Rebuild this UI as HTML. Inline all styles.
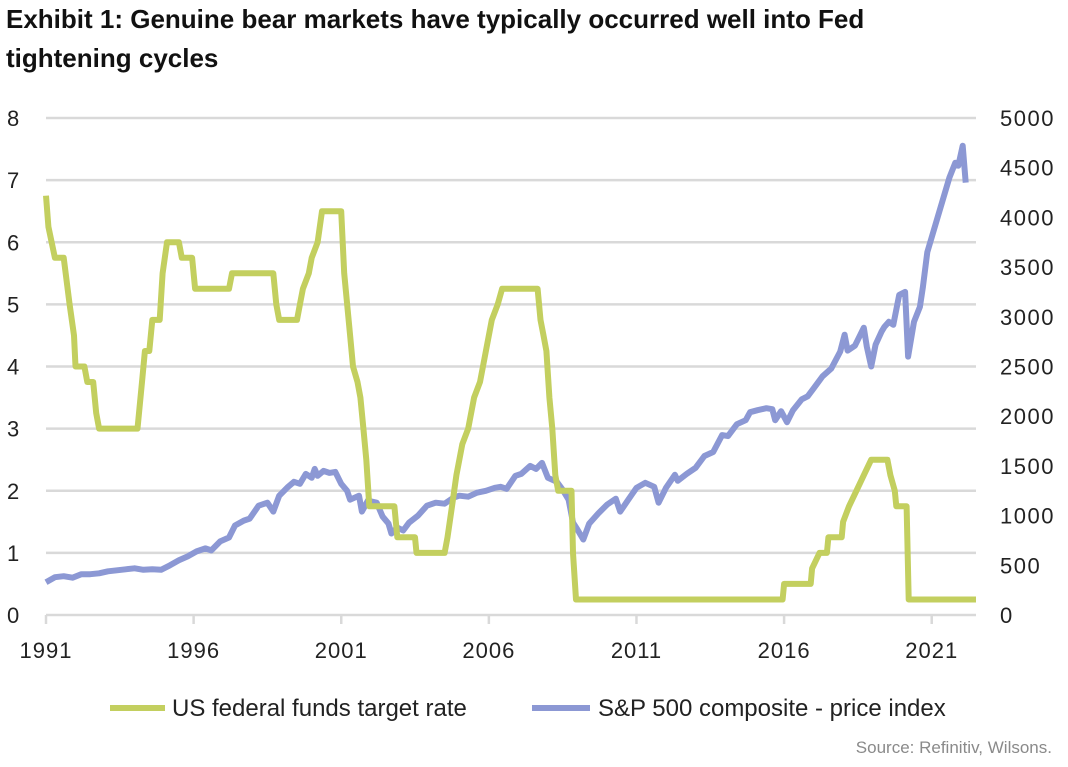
<!DOCTYPE html>
<html><head><meta charset="utf-8"><style>
body{margin:0;background:#fff;}
svg text{font-family:"Liberation Sans",sans-serif;}
</style></head><body>
<svg id="c" width="1068" height="762" xmlns="http://www.w3.org/2000/svg">
<text x="6" y="28" font-size="26" font-weight="bold" fill="#111">Exhibit 1: Genuine bear markets have typically occurred well into Fed</text>
<text x="6" y="67" font-size="26" font-weight="bold" fill="#111">tightening cycles</text>
<g id="grid"></g><g id="series"></g><g id="axes"></g>
<line x1="110" y1="708" x2="165" y2="708" stroke="#c3cf5f" stroke-width="6"/>
<text x="172" y="716" font-size="24" fill="#222">US federal funds target rate</text>
<line x1="532" y1="708" x2="590" y2="708" stroke="#8c98d4" stroke-width="6"/>
<text x="598" y="716" font-size="24" fill="#222">S&amp;P 500 composite - price index</text>
<text x="1052" y="753" font-size="17" fill="#8a8a8a" text-anchor="end">Source: Refinitiv, Wilsons.</text>
</svg>
<script>
const leftTicks=[0,1,2,3,4,5,6,7,8];
const rightTicks=[0,500,1000,1500,2000,2500,3000,3500,4000,4500,5000];
const xTicks=[1991,1996,2001,2006,2011,2016,2021];
const fedYears=[1991.0,1991.08,1991.3,1991.6,1991.8,1991.95,1992.0,1992.3,1992.4,1992.6,1992.7,1992.8,1994.1,1994.25,1994.35,1994.5,1994.6,1994.85,1994.95,1995.1,1995.5,1995.6,1995.95,1996.05,1997.2,1997.3,1998.7,1998.8,1998.9,1999.5,1999.6,1999.7,1999.9,2000.0,2000.2,2000.35,2001.0,2001.05,2001.1,2001.3,2001.4,2001.55,2001.65,2001.75,2001.85,2001.95,2002.8,2002.9,2003.5,2003.55,2004.5,2004.6,2004.75,2004.9,2005.1,2005.3,2005.5,2005.7,2005.9,2006.1,2006.3,2006.45,2007.65,2007.75,2007.85,2007.95,2008.05,2008.15,2008.25,2008.35,2008.8,2008.85,2008.95,2015.95,2016.0,2016.9,2016.95,2017.2,2017.45,2017.5,2017.95,2018.0,2018.2,2018.45,2018.7,2018.95,2019.5,2019.6,2019.75,2019.8,2020.15,2020.22,2022.5];
const fedRates=[6.75,6.25,5.75,5.75,5.0,4.5,4.0,4.0,3.75,3.75,3.25,3.0,3.0,3.75,4.25,4.25,4.75,4.75,5.5,6.0,6.0,5.75,5.75,5.25,5.25,5.5,5.5,5.0,4.75,4.75,5.0,5.25,5.5,5.75,6.0,6.5,6.5,6.0,5.5,4.5,4.0,3.75,3.5,3.0,2.5,1.75,1.75,1.25,1.25,1.0,1.0,1.25,1.75,2.25,2.75,3.0,3.5,3.75,4.25,4.75,5.0,5.25,5.25,4.75,4.5,4.25,3.5,3.0,2.25,2.0,2.0,1.0,0.25,0.25,0.5,0.5,0.75,1.0,1.0,1.25,1.25,1.5,1.75,2.0,2.25,2.5,2.5,2.25,2.0,1.75,1.75,0.25,0.25];
const spYears=[1991.0,1991.3,1991.6,1991.9,1992.2,1992.5,1992.8,1993.1,1993.4,1993.7,1994.0,1994.3,1994.6,1994.9,1995.2,1995.5,1995.8,1996.1,1996.4,1996.6,1996.9,1997.2,1997.4,1997.7,1997.9,1998.2,1998.5,1998.7,1998.9,1999.2,1999.4,1999.6,1999.8,2000.0,2000.1,2000.2,2000.4,2000.6,2000.8,2001.0,2001.2,2001.3,2001.6,2001.7,2001.9,2002.2,2002.4,2002.6,2002.7,2002.9,2003.1,2003.3,2003.6,2003.9,2004.2,2004.5,2004.8,2005.0,2005.3,2005.6,2005.9,2006.2,2006.4,2006.6,2006.9,2007.1,2007.4,2007.6,2007.8,2008.0,2008.3,2008.5,2008.7,2008.85,2009.0,2009.2,2009.4,2009.7,2010.0,2010.3,2010.45,2010.7,2011.0,2011.3,2011.6,2011.75,2012.0,2012.3,2012.4,2012.7,2013.0,2013.3,2013.6,2013.9,2014.1,2014.4,2014.7,2014.85,2015.1,2015.4,2015.6,2015.7,2015.9,2016.1,2016.3,2016.6,2016.8,2017.0,2017.3,2017.6,2017.9,2018.05,2018.15,2018.4,2018.7,2018.8,2018.95,2019.1,2019.3,2019.4,2019.55,2019.7,2019.9,2020.1,2020.2,2020.4,2020.6,2020.7,2020.85,2021.0,2021.2,2021.4,2021.6,2021.8,2021.9,2022.05,2022.15,2022.3];
const spValues=[330,380,390,375,410,410,420,440,450,460,470,455,460,455,500,550,590,640,670,650,740,780,900,950,970,1100,1130,1040,1200,1290,1340,1320,1420,1380,1470,1400,1450,1430,1440,1320,1250,1160,1200,1040,1150,1130,990,920,820,880,850,930,1000,1100,1130,1120,1180,1200,1190,1230,1250,1280,1290,1270,1400,1420,1500,1470,1530,1380,1340,1260,1160,930,860,760,920,1020,1110,1170,1040,1150,1280,1330,1290,1130,1280,1410,1350,1420,1480,1600,1640,1810,1800,1920,1960,2040,2060,2080,2070,1960,2050,1940,2060,2170,2200,2280,2400,2480,2650,2820,2660,2710,2890,2700,2500,2720,2850,2900,2950,2920,3220,3250,2600,2950,3100,3300,3650,3800,4000,4200,4400,4550,4520,4720,4350];
const X0=46,X1=976,Y0=615,Y1=118,T0=1991,T1=2022.5;
function xs(t){return X0+(t-T0)/(T1-T0)*(X1-X0);}
function yl(v){return Y0-v/8*(Y0-Y1);}
function yr(v){return Y0-v/5000*(Y0-Y1);}
const NS='http://www.w3.org/2000/svg';
function mk(tag,attrs,parent,txt){const e=document.createElementNS(NS,tag);for(const k in attrs)e.setAttribute(k,attrs[k]);if(txt!==undefined)e.textContent=txt;document.getElementById(parent).appendChild(e);return e;}
leftTicks.forEach(v=>{
 const l=mk('line',{x1:X0,x2:X1,y1:yl(v),y2:yl(v),stroke:'#d9d9d9','stroke-width':2.5},'grid');
 
 
 const t=mk('text',{x:7,y:yl(v)+8,'font-size':22,fill:'#222'},'axes',String(v));
 
 
});
rightTicks.forEach(v=>{
 const t=mk('text',{x:1000,y:yr(v)+8,'font-size':22,fill:'#222','letter-spacing':'1.5'},'axes',String(v));
 
 
});
xTicks.forEach(v=>{
 const l=mk('line',{x1:xs(v),x2:xs(v),y1:Y0,y2:Y0+9,stroke:'#d9d9d9','stroke-width':2.5},'axes');
 
 
 const t=mk('text',{x:xs(v),y:Y0+43,'font-size':22,fill:'#222','text-anchor':'middle','letter-spacing':'1'},'axes',String(v));
 
 
});
const spPts=spYears.map((t,i)=>xs(t).toFixed(1)+','+yr(spValues[i]).toFixed(1)).join(' ');
const sp=mk('polyline',{points:spPts,fill:'none',stroke:'#8c98d4','stroke-width':6,'stroke-linejoin':'round'},'series');


const fedPts=fedYears.map((t,i)=>xs(t).toFixed(1)+','+yl(fedRates[i]).toFixed(1)).join(' ');
const fed=mk('polyline',{points:fedPts,fill:'none',stroke:'#c3cf5f','stroke-width':6,'stroke-linejoin':'round'},'series');


</script>
</body></html>
